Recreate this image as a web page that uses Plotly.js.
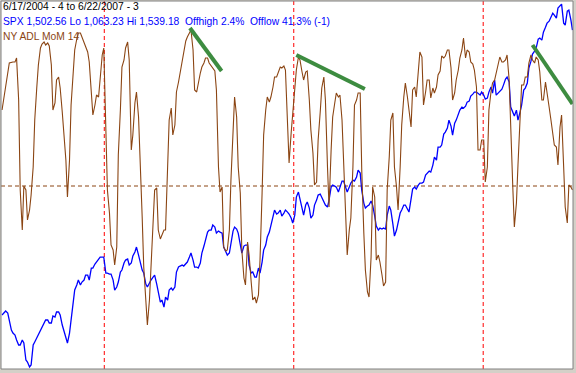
<!DOCTYPE html>
<html>
<head>
<meta charset="utf-8">
<script src="https://cdn.plot.ly/plotly-3.0.1.min.js"></script>
<style>
  html, body { margin: 0; padding: 0; background: #d4d0c8; }
  #chart { width: 576px; height: 373px; }
</style>
</head>
<body>
<div id="chart"></div>
<script>
// Samples: every Friday from 2004-06-18 to 2007-06-22, plus the Tuesday after each Friday
const FRIDAY_START = '2004-06-18';

// S&P 500, Friday values
const SPX_FRI = [1132.1,1137.3,1123.0,1108.7,1099.6,1093.1,1095.7,1071.0,1067.1,1097.0,
1106.1,1116.5,1125.6,1121.7,1130.8,1136.0,1132.1,1112.6,1095.7,1128.2,
1164.6,1177.6,1175.0,1184.1,1177.6,1193.2,1201.0,1207.5,1207.5,1186.7,
1185.4,1164.6,1175.0,1190.6,1203.6,1197.1,1208.8,1220.5,1201.0,1186.7,
1168.5,1177.6,1184.1,1160.7,1151.6,1155.5,1164.6,1164.6,1188.0,1195.8,
1195.8,1201.0,1212.7,1194.5,1193.2,1212.7,1229.6,1242.6,1249.1,1238.7,
1240.0,1220.5,1210.1,1227.0,1246.5,1238.7,1212.7,1223.1,1197.1,1188.0,
1181.5,1186.7,1216.6,1233.5,1247.8,1268.6,1264.7,1260.8,1268.6,1263.4,
1251.7,1285.5,1281.6,1262.1,1279.0,1258.2,1275.1,1288.1,1285.5,1275.1,
1281.6,1301.1,1298.5,1297.2,1306.3,1292.0,1303.7,1306.3,1320.6,1294.6,
1271.2,1275.1,1275.1,1247.8,1245.2,1245.2,1262.1,1268.6,1234.8,1253.0,
1268.6,1275.1,1266.0,1295.9,1295.9,1303.7,1305.0,1316.7,1318.0,1337.5,
1350.5,1353.1,1370.0,1385.6,1366.1,1385.6,1398.6,1401.2,1409.0,1416.8,
1422.0,1420.7,1422.0,1412.9,1422.0,1420.7,1418.1,1422.0,1431.1,1441.5,
1402.5,1390.8,1385.6,1405.1,1427.2,1453.2,1471.4,1479.2,1492.2,1500.0,
1511.7,1519.5,1522.1,1531.2,1536.4,1509.1,1528.6,1502.56];

// S&P 500, Tuesday values
const SPX_TUE = [1136.0,1134.7,1112.6,1106.1,1093.1,1099.6,1073.6,1064.5,1093.1,1102.2,
1111.3,1121.7,1125.6,1121.7,1129.5,1136.0,1119.1,1102.2,1108.7,1151.6,
1171.1,1171.1,1177.6,1184.1,1193.2,1198.4,1203.6,1207.5,1186.7,1185.4,
1177.6,1168.5,1188.0,1199.7,1204.9,1199.7,1214.0,1210.1,1190.6,1172.4,
1175.0,1181.5,1172.4,1149.0,1142.5,1151.6,1167.2,1168.5,1194.5,1197.1,
1199.7,1207.5,1203.6,1194.5,1199.7,1221.8,1240.0,1242.6,1246.5,1241.3,
1238.7,1215.3,1212.7,1241.3,1243.9,1225.7,1221.8,1223.1,1186.7,1181.5,
1193.2,1201.0,1223.1,1240.0,1259.5,1263.4,1268.6,1264.7,1266.0,1258.2,
1262.1,1292.0,1271.2,1275.1,1271.2,1262.1,1281.6,1289.4,1280.3,1272.5,
1298.5,1299.8,1292.0,1306.3,1298.5,1298.5,1307.6,1311.5,1316.7,1277.7,
1273.8,1280.3,1260.8,1242.6,1243.9,1243.9,1273.8,1250.4,1242.6,1264.7,
1275.1,1268.6,1282.9,1298.5,1301.1,1303.7,1314.1,1319.3,1327.1,1333.6,
1350.5,1367.4,1375.2,1377.8,1381.7,1392.1,1402.5,1403.8,1410.3,1419.4,
1422.0,1418.1,1418.1,1414.2,1428.5,1437.6,1420.7,1425.9,1438.9,1435.0,
1394.7,1398.6,1396.0,1424.6,1433.7,1462.3,1475.3,1490.9,1489.6,1506.5,
1514.3,1524.7,1518.2,1535.1,1511.7,1527.3,1515.6];

// NY ADL 14-day momentum, Friday values
const ADL_FRI = [760,990,1230,1240,1280,-40,0,-340,-90,660,
1210,1420,1410,1400,760,1060,980,560,-110,810,
1360,1530,1490,1390,1240,710,910,1040,1380,-40,
-590,-790,310,1190,1380,1260,510,940,160,-810,
-1390,-840,-40,-440,-490,-440,660,510,940,1130,
1360,1490,1560,960,1040,1190,1280,1230,1180,960,
-60,-610,-640,60,890,190,-640,-990,-690,-1140,
-1170,-740,510,890,890,1090,1140,1180,1160,230,
710,1160,1260,1060,1150,560,10,460,980,860,
-210,690,930,910,260,-690,-320,810,930,160,
-840,-1110,-10,-740,-760,-1000,-40,660,190,-240,
610,1030,730,960,890,1340,810,1060,880,930,
1110,1300,1300,1360,860,1060,1280,1480,1360,1240,
1160,360,460,40,760,1030,1140,1290,1240,1310,
530,-410,210,1010,1090,1230,1260,1290,1140,860,
910,680,410,210,710,-210,10,-40];

// NY ADL 14-day momentum, Tuesday values
const ADL_TUE = [910,1130,1240,1240,860,-440,-40,-240,190,990,
1380,1440,1430,1210,830,1090,740,260,260,1130,
1470,1530,1430,1340,930,810,890,1310,530,-270,
-640,-610,760,1260,1440,360,830,690,-310,-1110,
-1140,-470,-20,-530,-440,260,780,610,1040,1230,
1450,1540,1360,940,1130,1230,1280,1200,1150,190,
-10,-650,-440,560,690,-70,-920,-560,-960,-1110,
-1090,-70,760,840,990,1090,1190,1200,630,530,
930,1290,1140,1140,860,330,40,740,1090,190,
360,830,890,660,-210,-440,190,860,930,-470,
-1060,-710,-110,-690,-890,-960,290,730,-10,190,
890,890,590,990,1180,1290,940,1060,980,990,
1150,1280,1360,1180,930,1160,1360,1280,1340,1220,
990,360,460,190,940,1060,1240,1240,1260,1060,
-10,-170,690,1010,1090,1310,1230,1260,860,1040,
790,530,390,590,190,-370,-10];

// Year separators
const YEAR_MARKS = ['2005-01-01', '2006-01-01', '2007-01-01'];

// Green divergence trend lines on the ADL momentum (start/end)
const TREND_DATES = [['2005-06-15', '2005-08-15'], ['2006-01-06', '2006-05-18'], ['2007-04-06', '2007-06-22']];
const TREND_VALUES = [[1580, 1150], [1310, 970], [1410, 820]];

// Header texts
const HEADER_1 = '6/17/2004 - 4 to 6/22/2007 - 3';
const HEADER_2 = 'SPX 1,502.56 Lo 1,063.23 Hi 1,539.18 \u00a0Offhigh 2.4% \u00a0Offlow 41.3% (-1)';
const HEADER_3 = 'NY ADL MoM 14';

function isoDay(base, plusDays) {
  return new Date(base.getTime() + plusDays * 86400000).toISOString().slice(0, 10);
}
function merge(fri, tue) {
  const base = new Date(FRIDAY_START + 'T00:00:00Z');
  const x = [], y = [];
  for (let i = 0; i < fri.length; i++) {
    x.push(isoDay(base, 7 * i)); y.push(fri[i]);
    if (i < tue.length) { x.push(isoDay(base, 7 * i + 4)); y.push(tue[i]); }
  }
  return { x, y };
}
const spx = merge(SPX_FRI, SPX_TUE);
const adl = merge(ADL_FRI, ADL_TUE);

const BROWN = '#8b4513';
const BLUE = '#0000ff';
const GREEN = '#3d8c40';

const traces = [
  { x: spx.x, y: spx.y, type: 'scatter', mode: 'lines', yaxis: 'y',
    line: { color: BLUE, width: 1.3 }, hoverinfo: 'skip' },
  { x: adl.x, y: adl.y, type: 'scatter', mode: 'lines', yaxis: 'y2',
    line: { color: BROWN, width: 1.1 }, hoverinfo: 'skip' }
];
TREND_DATES.forEach((d, i) => {
  traces.push({ x: d, y: TREND_VALUES[i], type: 'scatter', mode: 'lines', yaxis: 'y2',
    line: { color: GREEN, width: 4 }, hoverinfo: 'skip' });
});

const shapes = YEAR_MARKS.map(d => ({
  type: 'line', xref: 'x', yref: 'paper', x0: d, x1: d, y0: 0, y1: 1,
  line: { color: '#ff0000', width: 1, dash: '4px,3px' }, layer: 'below'
}));
shapes.push({ type: 'line', xref: 'paper', yref: 'y2', x0: 0, x1: 1, y0: 0, y1: 0,
  line: { color: BROWN, width: 1, dash: '4px,3px' }, layer: 'below' });
shapes.push({ type: 'rect', xref: 'paper', yref: 'paper', x0: 0, x1: 1, y0: 0, y1: 1,
  line: { color: '#808080', width: 1 }, layer: 'above' });

const fontFam = 'Liberation Sans, Arial, sans-serif';
const annotations = [
  { text: HEADER_1, color: '#000000', shift: 1.7 },
  { text: HEADER_2, color: BLUE, shift: -13.3 },
  { text: HEADER_3, color: BROWN, shift: -27.5 }
].map(a => ({
  xref: 'paper', yref: 'paper', x: 0, y: 1, xanchor: 'left', yanchor: 'top',
  yshift: a.shift, showarrow: false, text: a.text,
  font: { family: fontFam, size: 10.3, color: a.color }
}));

const layout = {
  width: 576, height: 373,
  margin: { l: 1, r: 3, t: 1, b: 4, pad: 0 },
  paper_bgcolor: '#d4d0c8', plot_bgcolor: '#ffffff',
  showlegend: false,
  xaxis: { type: 'date', range: ['2004-06-16', '2007-06-23'], visible: false, fixedrange: true },
  yaxis: { range: [1061.9, 1540.5], visible: false, fixedrange: true },
  yaxis2: { range: [-1830, 1850], overlaying: 'y', visible: false, fixedrange: true },
  shapes: shapes,
  annotations: annotations
};

Plotly.newPlot('chart', traces, layout, { staticPlot: true, displayModeBar: false });
</script>
</body>
</html>
